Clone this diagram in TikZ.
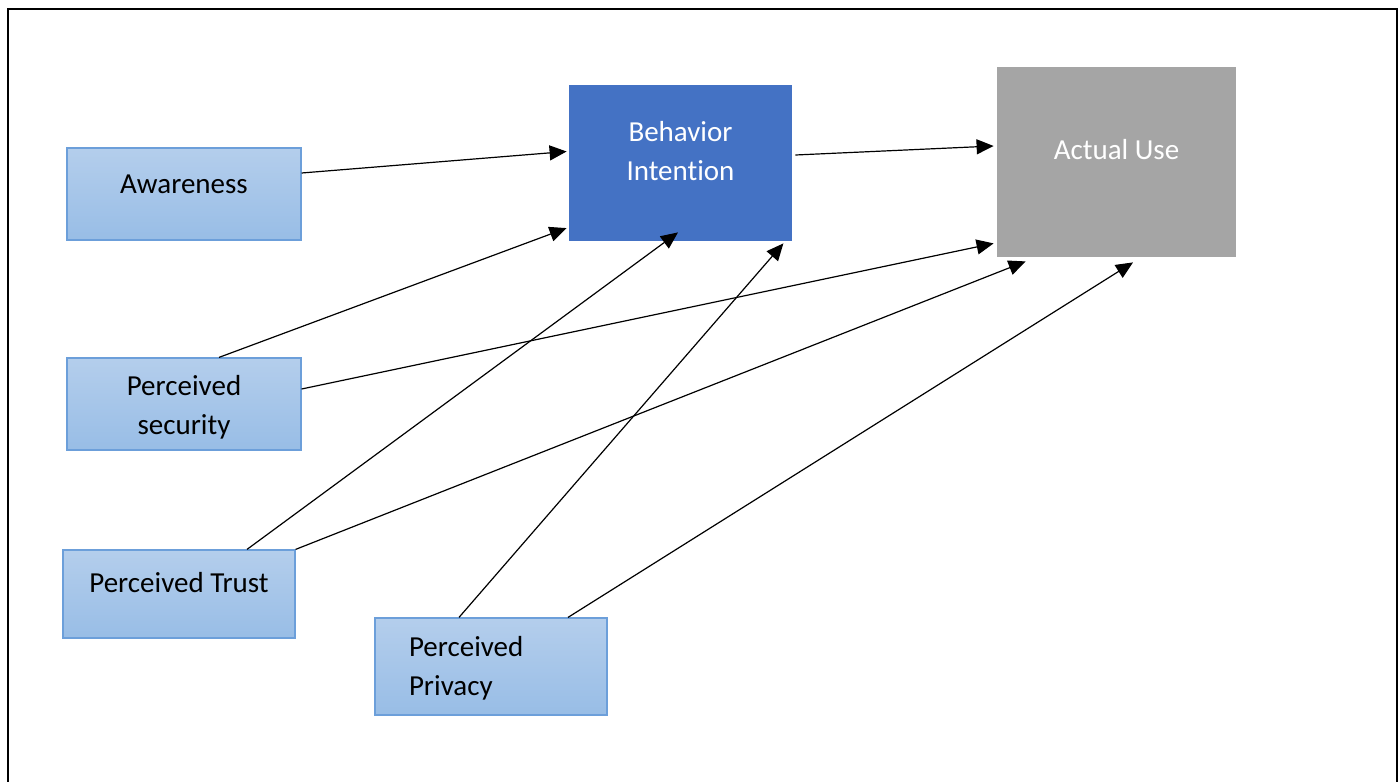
\documentclass[tikz,border=0pt]{standalone}
\usepackage{fontspec}
\setmainfont[Ligatures=NoCommon]{Carlito}
\usetikzlibrary{arrows.meta,calc}
\definecolor{boxtop}{RGB}{180,206,236}
\definecolor{boxbot}{RGB}{152,189,230}
\definecolor{boxline}{RGB}{108,159,218}
\definecolor{bifill}{RGB}{68,114,196}
\definecolor{aufill}{RGB}{165,165,165}

\begin{document}
\begin{tikzpicture}[x=0.5pt,y=-0.5pt,
  factor/.style={draw=boxline,line width=0.6pt,top color=boxtop,bottom color=boxbot,
                 inner sep=0pt,text=black,font=\fontsize{14.5}{19.3}\selectfont},
  outcome/.style={inner sep=0pt,text=white,font=\fontsize{14.5}{19.5}\selectfont},
  twoline/.style={text width=100pt,align=center,text height=9pt},
  arr/.style={-{Triangle[length=8.5pt,width=7.5pt]},line width=0.6pt}
]
\useasboundingbox (0,0) rectangle (1399,782);
\draw[line width=1pt] (8,782) -- (8,9) -- (1397,9) -- (1397,782);

% constructs
\node[factor,minimum width=117pt,minimum height=46pt,text height=9pt,text depth=10pt] (aw) at (184,194) {Awareness};
\node[factor,twoline,minimum width=117pt,minimum height=46pt,text depth=17.5pt] (ps) at (184,404) {Perceived\\security};
\node[factor,minimum width=116pt,minimum height=44pt,text height=9pt,text depth=10.5pt] (pt) at (179,594) {Perceived Trust};
\node[factor,text width=82pt,align=left,inner xsep=17pt,minimum width=116pt,minimum height=48.5pt,
      text height=9pt,text depth=18.8pt] (pp) at (491,666.5) {Perceived\\Privacy};
\node[outcome,fill=bifill,twoline,minimum width=111.5pt,minimum height=78pt,text depth=31pt] (bi) at (680.5,163) {Behavior\\Intention};
\node[outcome,fill=aufill,minimum width=119.5pt,minimum height=95pt,text height=9pt,text depth=11.7pt] (au) at (1116.5,162) {Actual Use};

% paths
\draw[arr] ($(aw.east)+(0,-21)$) -- ($(bi.west)+(-2,-11.5)$);
\draw[arr] ($(bi.east)+(3,-8)$) -- ($(au.west)+(-3,-16)$);
\draw[arr] ($(ps.north)+(35,0)$) -- ($(bi.south west)+(-2,-13.3)$);
\draw[arr] ($(ps.east)+(0,-15)$) -- ($(au.south west)+(-3,-14)$);
\draw[arr] ($(pt.north)+(68,0)$) -- ($(bi.south)+(-2.5,-9)$);
\draw[arr] (pt.north east) -- ($(au.south west)+(29,4)$);
\draw[arr] ($(pp.north)+(-32,0)$) -- ($(bi.south east)+(-9,2)$);
\draw[arr] ($(pp.north)+(77,0)$) -- ($(au.south)+(16.5,5)$);
\end{tikzpicture}
\end{document}
